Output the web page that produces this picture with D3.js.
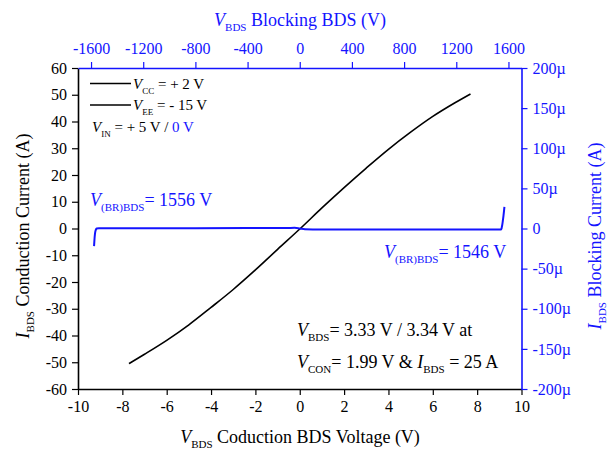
<!DOCTYPE html>
<html>
<head>
<meta charset="utf-8">
<script src="https://cdn.jsdelivr.net/npm/d3@7"></script>
<style>
  html, body { margin: 0; padding: 0; background: #fff; }
  svg { display: block; }
  svg text { font-family: "Liberation Serif", "Times New Roman", Times, serif; }
</style>
</head>
<body>
<svg id="chart" width="612" height="453"></svg>
<script>
// Conduction characteristic (bottom / left axes): BDS voltage (V) vs. current (A)
const condV = [-7.7, -7, -6, -5, -4, -3, -2, -1, 0, 1, 2, 3, 4, 5, 6, 7, 7.7];
const condI = [-50.5, -47, -41.8, -36, -29.5, -22.8, -15.5, -7.8, -0.2, 7.7, 15.3, 22.6, 29.6, 36, 41.9, 47, 50.3];

// Blocking characteristic (top / right axes): BDS voltage (V) vs. leakage current (µA)
const blockV = [-1577, -1575, -1572, -1568, -1563, -1556, -1540, -1200, -800, -400, -100, -40, 0, 40, 100, 400, 800, 1200, 1500, 1544, 1547, 1550, 1554, 1558, 1562, 1566, 1569];
const blockI = [-22, -17, -10, -4.5, -1.5, 0, 0.4, 0.4, 0.4, 0.5, 0.5, 0.8, 0, -1, -1.2, -1.2, -1.2, -1.2, -1.2, -1.2, 0, 2.5, 6, 11, 16, 22, 27];

// Axis ticks and labels
const bottomTicks = [-10, -8, -6, -4, -2, 0, 2, 4, 6, 8, 10];
const bottomLabels = ["-10", "-8", "-6", "-4", "-2", "0", "2", "4", "6", "8", "10"];
const leftTicks = [-60, -50, -40, -30, -20, -10, 0, 10, 20, 30, 40, 50, 60];
const leftLabels = ["-60", "-50", "-40", "-30", "-20", "-10", "0", "10", "20", "30", "40", "50", "60"];
const topTicks = [-1600, -1200, -800, -400, 0, 400, 800, 1200, 1600];
const topLabels = ["-1600", "-1200", "-800", "-400", "0", "400", "800", "1200", "1600"];
const rightTicks = [-200, -150, -100, -50, 0, 50, 100, 150, 200];
const rightLabels = ["-200µ", "-150µ", "-100µ", "-50µ", "0", "50µ", "100µ", "150µ", "200µ"];

const BLUE = "#1414ff";
const BLACK = "#000";

const svg = d3.select("#chart");
const L = 78, R = 521.5, T = 68, B = 389;

const x = d3.scaleLinear().domain([-10, 10]).range([L, R]);
const y = d3.scaleLinear().domain([-60, 60]).range([B, T]);
const xTop = d3.scaleLinear().domain([-1700, 1700]).range([L, R]);
const yRight = d3.scaleLinear().domain([-200, 200]).range([B, T]);

function minorBetween(ticks, step) {
  const out = [];
  for (let i = 0; i < ticks.length - 1; i++) out.push(ticks[i] + step);
  return out;
}

function styleAxis(g, color) {
  g.attr("font-family", null);
  g.selectAll("path.domain").attr("stroke", color).attr("stroke-width", 1.6);
  g.selectAll(".tick line").attr("stroke", color).attr("stroke-width", 1.2);
  g.selectAll(".tick text").attr("fill", color).attr("font-size", 16);
}

function labelFmt(ticks, labels) {
  return v => labels[ticks.indexOf(v)];
}

// Bottom axis
const gB = svg.append("g").attr("transform", `translate(0,${B})`);
gB.call(d3.axisBottom(x).tickValues(minorBetween(bottomTicks, 1)).tickSize(3).tickSizeOuter(0).tickFormat(""));
gB.call(d3.axisBottom(x).tickValues(bottomTicks).tickSize(6).tickPadding(6).tickSizeOuter(0)
  .tickFormat(labelFmt(bottomTicks, bottomLabels)));
styleAxis(gB, BLACK);

// Left axis
const gL = svg.append("g").attr("transform", `translate(${L},0)`);
gL.call(d3.axisLeft(y).tickValues(minorBetween(leftTicks, 5)).tickSize(3).tickSizeOuter(0).tickFormat(""));
gL.call(d3.axisLeft(y).tickValues(leftTicks).tickSize(6).tickPadding(5).tickSizeOuter(0)
  .tickFormat(labelFmt(leftTicks, leftLabels)));
styleAxis(gL, BLACK);

// Top axis
const gT = svg.append("g").attr("transform", `translate(0,${T})`);
gT.call(d3.axisTop(xTop).tickValues(minorBetween(topTicks, 200)).tickSize(3).tickSizeOuter(0).tickFormat(""));
gT.call(d3.axisTop(xTop).tickValues(topTicks).tickSize(6).tickPadding(8).tickSizeOuter(0)
  .tickFormat(labelFmt(topTicks, topLabels)));
styleAxis(gT, BLUE);

// Right axis
const gR = svg.append("g").attr("transform", `translate(${R},0)`);
gR.call(d3.axisRight(yRight).tickValues(minorBetween(rightTicks, 25)).tickSize(3).tickSizeOuter(0).tickFormat(""));
gR.call(d3.axisRight(yRight).tickValues(rightTicks).tickSize(6).tickPadding(5).tickSizeOuter(0)
  .tickFormat(labelFmt(rightTicks, rightLabels)));
styleAxis(gR, BLUE);

// Curves
const condLine = d3.line().x(d => x(d[0])).y(d => y(d[1])).curve(d3.curveMonotoneX);
svg.append("path")
  .datum(condV.map((v, i) => [v, condI[i]]))
  .attr("d", condLine)
  .attr("fill", "none").attr("stroke", BLACK).attr("stroke-width", 1.6);

const blockLine = d3.line().x(d => xTop(d[0])).y(d => yRight(d[1])).curve(d3.curveMonotoneX);
svg.append("path")
  .datum(blockV.map((v, i) => [v, blockI[i]]))
  .attr("d", blockLine)
  .attr("fill", "none").attr("stroke", BLUE).attr("stroke-width", 2);

// Rich text helper: parts are [text, style, colour] where style may be "i" (italic) or "sub"
function richText(parent, xPos, yPos, parts, opts) {
  const size = opts.size;
  const t = parent.append("text")
    .attr("x", xPos).attr("y", yPos)
    .attr("font-size", size)
    .attr("fill", opts.color || BLACK)
    .attr("text-anchor", opts.anchor || "start");
  if (opts.rotate) t.attr("transform", `rotate(${opts.rotate},${xPos},${yPos})`);
  const shift = Math.round(size * 0.3);
  let lowered = false;
  parts.forEach(p => {
    const s = t.append("tspan").text(p[0]);
    const st = p[1] || "";
    if (st.includes("sub")) {
      s.attr("font-size", Math.round(size * 0.6));
      if (!lowered) { s.attr("dy", shift); lowered = true; }
    } else if (lowered) {
      s.attr("dy", -shift); lowered = false;
    }
    if (st.includes("i")) s.attr("font-style", "italic");
    if (p[2]) s.attr("fill", p[2]);
  });
  return t;
}

// Axis titles
richText(svg, 300, 26, [["V", "i"], ["BDS", "sub"], [" Blocking BDS (V)"]], { size: 18, color: BLUE, anchor: "middle" });
richText(svg, 300, 443, [["V", "i"], ["BDS", "sub"], [" Coduction BDS Voltage (V)"]], { size: 18, anchor: "middle" });
richText(svg, 29, 236, [["I", "i"], ["BDS", "sub"], [" Conduction Current (A)"]], { size: 18, anchor: "middle", rotate: -90 });
richText(svg, 601, 236, [["I", "i"], ["BDS", "sub"], [" Blocking Current (A)"]], { size: 18, color: BLUE, anchor: "middle", rotate: -90 });

// Legend
[[83.5, [["V", "i"], ["CC", "sub"], [" = + 2 V"]]],
 [105, [["V", "i"], ["EE", "sub"], [" = - 15 V"]]]].forEach(([ly, parts]) => {
  svg.append("line").attr("x1", 90).attr("x2", 131).attr("y1", ly).attr("y2", ly)
    .attr("stroke", BLACK).attr("stroke-width", 1.6);
  richText(svg, 133, ly + 5, parts, { size: 15 });
});
richText(svg, 92, 132, [["V", "i"], ["IN", "sub"], [" = + 5 V / "], ["0 V", "", BLUE]], { size: 15 });

// Breakdown annotations
richText(svg, 90, 206, [["V", "i"], ["(BR)BDS", "sub"], ["= 1556 V"]], { size: 18, color: BLUE });
richText(svg, 384, 258, [["V", "i"], ["(BR)BDS", "sub"], ["= 1546 V"]], { size: 18, color: BLUE });

// Operating point note
richText(svg, 297, 336, [["V", "i"], ["BDS", "sub"], ["= 3.33 V / 3.34 V at"]], { size: 18 });
richText(svg, 297, 368, [["V", "i"], ["CON", "sub"], ["= 1.99 V & "], ["I", "i"], ["BDS", "sub"], [" = 25 A"]], { size: 18 });
</script>
</body>
</html>
